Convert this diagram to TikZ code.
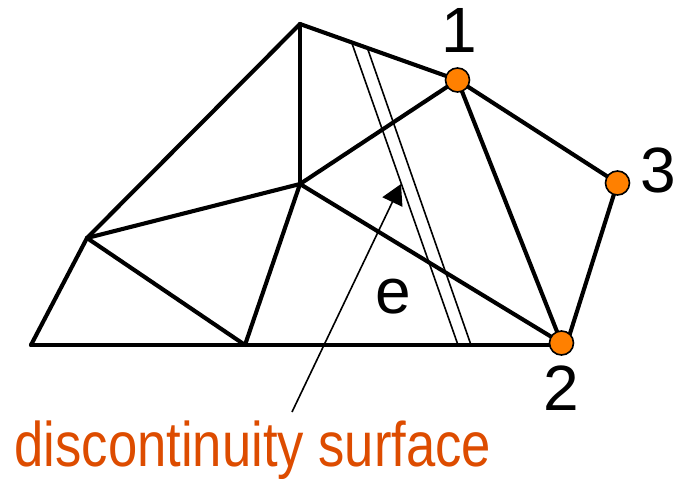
\documentclass[tikz,border=0pt]{standalone}
\usepackage{fontspec}
\setmainfont{Liberation Sans}
\usetikzlibrary{arrows.meta}
\definecolor{dotorange}{HTML}{FF8000}
\definecolor{labelorange}{HTML}{DD4C00}
\tikzset{
  edgeline/.style={line width=4.1pt,line cap=round,line join=round},
  thinline/.style={line width=1.6pt},
  pointer/.style={line width=1.6pt,-{Triangle[length=20pt,width=22pt]}},
  meshdot/.style={circle,draw=black,fill=dotorange,line width=1.6pt,minimum size=24pt,inner sep=0pt},
  numlabel/.style={font=\fontsize{64}{64}\selectfont,anchor=base,inner sep=0pt,text=black},
  caption/.style={font=\fontsize{63}{63}\selectfont,anchor=base west,inner sep=0pt,text=labelorange,xscale=0.835,transform shape}
}
\begin{document}
\begin{tikzpicture}[x=1pt,y=-1pt]
\useasboundingbox (0,0) rectangle (675,479);
% mesh vertices
\coordinate (top) at (300,24);
\coordinate (mid) at (300,184);
\coordinate (left) at (87,238);
\coordinate (bl) at (31,345);
\coordinate (bm) at (245,345);
\coordinate (br) at (561.5,345);
\coordinate (p1) at (457.5,80);
\coordinate (p2) at (561.5,343);
\coordinate (p2r) at (567,343);
\coordinate (p3) at (617.5,183);
% discontinuity band
\coordinate (s1) at (351.5,42);
\coordinate (s2) at (458,345);
\coordinate (s3) at (367,47);
\coordinate (s4) at (471,345);
\draw[thinline] (s1) -- (s2);
\draw[thinline] (s3) -- (s4);
% mesh edges
\draw[edgeline] (top) -- (p1);
\draw[edgeline] (top) -- (mid);
\draw[edgeline] (top) -- (left);
\draw[edgeline] (mid) -- (p1);
\draw[edgeline] (mid) -- (left);
\draw[edgeline] (mid) -- (bm);
\draw[edgeline] (mid) -- (p2);
\draw[edgeline] (left) -- (bl);
\draw[edgeline] (left) -- (bm);
\draw[edgeline] (bl) -- (br);
\draw[edgeline] (p1) -- (p2);
\draw[edgeline] (p1) -- (p3);
\draw[edgeline] (p2r) -- (p3);
% arrow
\coordinate (tail) at (292,412);
\coordinate (tip) at (401,184);
\draw[pointer] (tail) -- (tip);
% marked nodes
\node[meshdot] (n1) at (p1) {};
\node[meshdot] (n2) at (p2) {};
\node[meshdot] (n3) at (p3) {};
% labels
\node[numlabel] (l1) at (459.5,52) {1};
\node[numlabel] (l2) at (561,410) {2};
\node[numlabel] (l3) at (658,192) {3};
\node[numlabel] (le) at (393,313) {e};
\node[caption] (cap) at (14.5,466.5) {discontinuity surface};
\end{tikzpicture}
\end{document}
